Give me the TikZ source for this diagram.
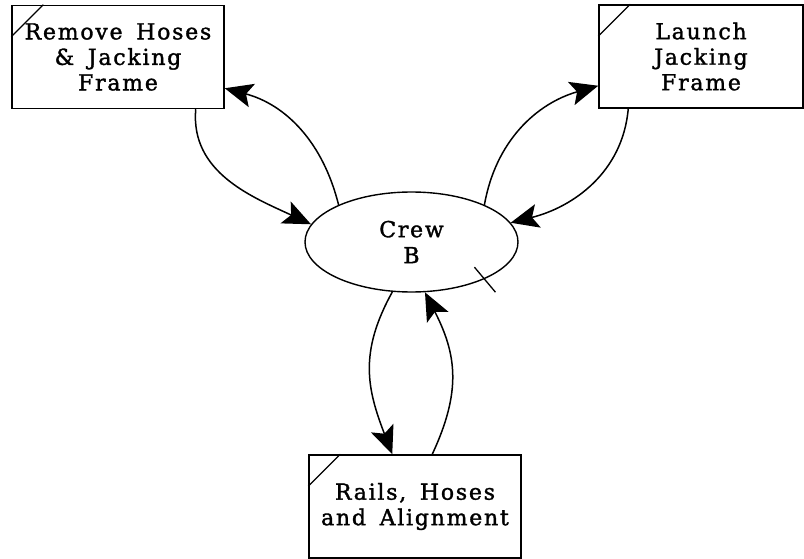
\documentclass[tikz,border=0pt]{standalone}
\usepackage{fontspec}
\setmainfont{DejaVu Serif}[LetterSpace=8, FakeBold=1.5]
\usetikzlibrary{arrows.meta,calc,shapes.geometric}
\newcommand{\wsp}{\hspace{0.62em}}
\tikzset{
  taskbox/.style={draw, line width=1.5pt, rectangle, minimum width=212pt,
    minimum height=103pt, inner sep=0pt, align=center,
    font=\fontsize{22}{25.5}\selectfont},
  crewshape/.style={draw, line width=1.4pt, ellipse, minimum width=213pt,
    minimum height=100pt, inner sep=0pt, align=center,
    font=\fontsize{22}{26}\selectfont},
  flow/.style={line width=1.5pt, -{Stealth[length=28pt,width=24pt,inset=6pt]}},
  corner/.style={line width=1.3pt}
}
\begin{document}
\begin{tikzpicture}[x=1pt,y=1pt]
\useasboundingbox (0,0) rectangle (804,-559);

% activity boxes
\node[taskbox] (rem) at (118,-57) {Remove\wsp Hoses\\\&\wsp Jacking\\Frame};
\node[taskbox, minimum width=204pt] (lau) at (701,-56.5) {Launch\\Jacking\\Frame};
\node[taskbox] (rai) at (415,-506.5) {Rails,\wsp Hoses\\and\wsp Alignment};

% crew
\node[crewshape] (crw) at (411.5,-242) {Crew\\B};

% corner marks
\foreach \b in {rem,lau,rai}
  \draw[corner] ($(\b.north west)+(0,-32)$) -- ($(\b.north west)+(32,0)$);

% tick on the crew
\draw[corner] ($(crw.-27)+(-10,12)$) -- ($(crw.-27)+(11,-13)$);

% remove hoses <-> crew
\draw[flow] ($(rem.south east)+(-29,0)$) to[out=-95,in=155] (crw.170);
\draw[flow] (crw.153) to[out=104,in=-15] ($(rem.south east)+(0,21)$);

% launch <-> crew
\draw[flow] (crw.27) to[out=80,in=196] ($(lau.south west)+(0,23)$);
\draw[flow] ($(lau.south west)+(30,0)$) to[out=-95,in=14] (crw.11);

% rails <-> crew
\draw[flow] (crw.249) to[out=-119,in=111,looseness=1.1] ($(rai.north west)+(84,0)$);
\draw[flow] ($(rai.north west)+(124,0)$) to[out=65,in=-63,looseness=1.1] (crw.285);
\end{tikzpicture}
\end{document}
